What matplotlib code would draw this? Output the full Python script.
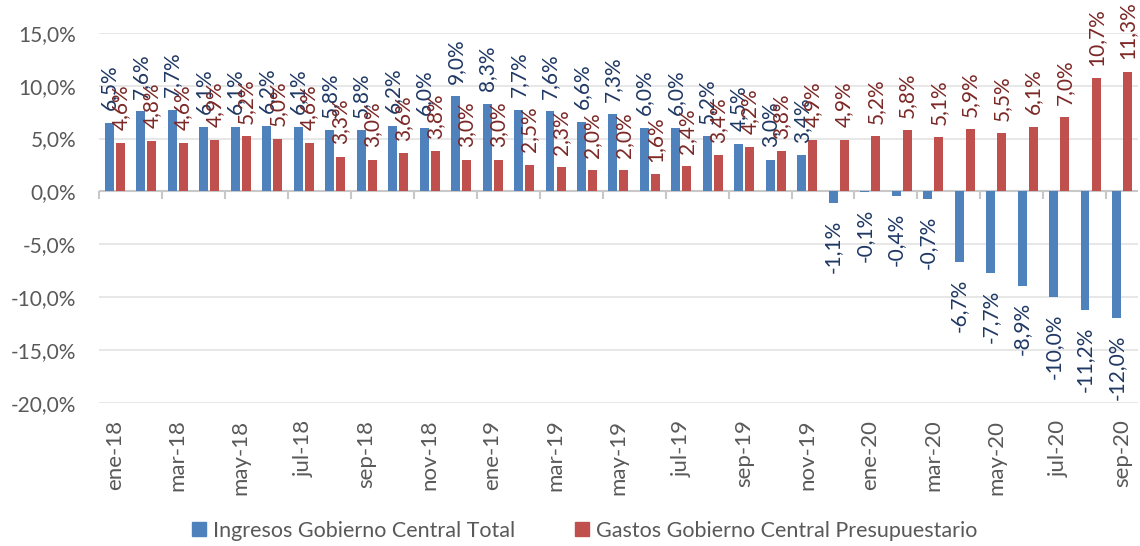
import numpy as np
import matplotlib.pyplot as plt
from matplotlib.patches import Patch

plt.rcParams['font.family'] = ['Lato', 'DejaVu Sans']

# Datos (variación %, eje en meses ene-18 .. sep-20)
meses = ['ene', 'feb', 'mar', 'abr', 'may', 'jun', 'jul', 'ago', 'sep', 'oct', 'nov', 'dic']
anios = ['18', '19', '20']
etiquetas = [m + '-' + a for a in anios for m in meses][:33]

ingresos = [6.5, 7.6, 7.7, 6.1, 6.1, 6.2, 6.1, 5.8, 5.8, 6.2, 6.0, 9.0,
            8.3, 7.7, 7.6, 6.6, 7.3, 6.0, 6.0, 5.2, 4.5, 3.0, 3.4, -1.1,
            -0.1, -0.4, -0.7, -6.7, -7.7, -8.9, -10.0, -11.2, -12.0]
gastos = [4.6, 4.8, 4.6, 4.9, 5.2, 5.0, 4.6, 3.3, 3.0, 3.6, 3.8, 3.0,
          3.0, 2.5, 2.3, 2.0, 2.0, 1.6, 2.4, 3.4, 4.2, 3.8, 4.9, 4.9,
          5.2, 5.8, 5.1, 5.9, 5.5, 6.1, 7.0, 10.7, 11.3]

nombre_ing = 'Ingresos Gobierno Central Total'
nombre_gas = 'Gastos Gobierno Central Presupuestario'

c_ing = '#4F81BD'
c_gas = '#C0504D'
t_ing = '#1F3864'
t_gas = '#7B2826'
gris = '#595959'

fig = plt.figure(figsize=(11.4, 5.46), dpi=100)
ax = fig.add_axes([0.087, 0.262, 0.911, 0.678])

x = np.arange(len(etiquetas))
w = 0.285
off = 0.175
ax.bar(x - off, ingresos, w, color=c_ing, zorder=3)
ax.bar(x + off, gastos, w, color=c_gas, zorder=3)


def fmt(v):
    return f'{v:.1f}%'.replace('.', ',')


for serie, dx, col in [(ingresos, -off, t_ing), (gastos, off, t_gas)]:
    for xi, v in zip(x, serie):
        if v >= 0:
            ax.annotate(fmt(v), (xi + dx, v), xytext=(0, 9), textcoords='offset points',
                        rotation=90, ha='center', va='bottom', fontsize=15,
                        color=col, annotation_clip=False, zorder=4)
        else:
            ax.annotate(fmt(v), (xi + dx, v), xytext=(0, -12), textcoords='offset points',
                        rotation=90, ha='center', va='top', fontsize=15,
                        color=col, annotation_clip=False, zorder=4)

ax.set_xlim(-0.5, len(etiquetas) - 0.5)
ax.set_ylim(-20, 15)
ax.set_yticks(np.arange(-20, 16, 5))
ax.set_yticklabels([fmt(v) for v in np.arange(-20, 16, 5)])
ax.yaxis.grid(True, color='#E3E3E3', lw=1.2, zorder=0)
ax.tick_params(axis='y', length=0, labelsize=15, colors=gris, pad=16.5)

ax.set_xticks(x[::2])
ax.set_xticklabels(etiquetas[::2], rotation=90)
ax.tick_params(axis='x', length=0, labelsize=16, colors=gris, pad=12)

for s in ax.spines.values():
    s.set_visible(False)

# linea del cero con marcas cada dos meses
ax.axhline(0, color='#C8C8C8', lw=1.5, zorder=2)
bordes = np.arange(-0.5, len(etiquetas), 2)
ax.plot(bordes, np.zeros(len(bordes)), ls='none', marker=3, ms=6, mew=1.5,
        color='#C8C8C8', clip_on=False, zorder=2)

handles = [Patch(color=c_ing, label=nombre_ing), Patch(color=c_gas, label=nombre_gas)]
fig.legend(handles=handles, loc='lower center', bbox_to_anchor=(0.513, -0.026), ncol=2,
           frameon=False, fontsize=15.5, handlelength=0.65, handleheight=0.65,
           handletextpad=0.3, columnspacing=2.8, labelcolor=gris)

fig.savefig('out.png', dpi=100)
